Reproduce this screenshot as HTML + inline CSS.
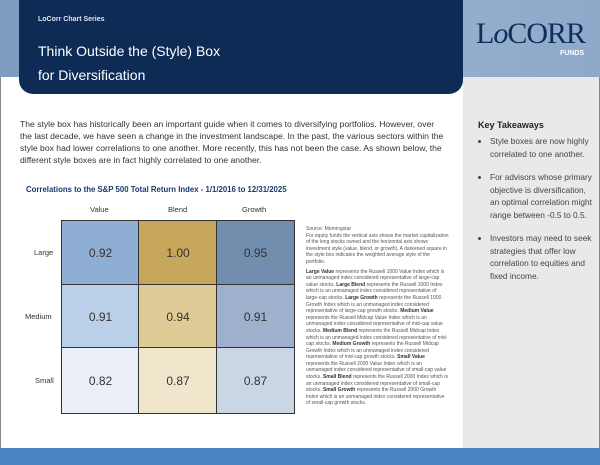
<!DOCTYPE html>
<html><head><style>
body{margin:0;width:600px;height:465px;position:relative;overflow:hidden;background:#fff;font-family:"Liberation Sans",sans-serif;color:#333}
.abs{position:absolute}
.cell{position:absolute;border:1.5px solid #333;box-sizing:border-box;display:flex;align-items:center;justify-content:center;font-size:12px;color:#333}
.src{font-size:5px;line-height:6.6px;color:#555}
.src b{color:#333}
ul{box-sizing:border-box}
li{margin-bottom:11px}
</style></head><body>
<div class="abs" style="left:0;top:0;width:600px;height:77px;background:linear-gradient(90deg,#7e9cc0,#9ab3d1 50%,#8ea9c9)"></div>
<div class="abs" style="left:0;top:77px;width:1px;height:388px;background:#888"></div>
<div class="abs" style="left:599px;top:77px;width:1px;height:388px;background:#888"></div>
<div class="abs" style="left:463px;top:77px;width:136px;height:371px;background:#e8e9eb"></div>
<div class="abs" style="left:19px;top:0;width:444px;height:94px;background:#0e2b56;border-radius:0 0 14px 14px"></div>
<div class="abs" style="left:38px;top:16px;font-size:7px;font-weight:bold;color:#dfe6f0">LoCorr Chart Series</div>
<div class="abs" style="left:38px;top:39px;font-size:14px;line-height:24px;color:#fff">Think Outside the (Style) Box<br>for Diversification</div>
<div class="abs" style="left:476px;top:17px;font-size:30px;color:#102e5c;font-family:'Liberation Serif',serif;letter-spacing:-1px">L<span style="font-style:italic">o</span>CORR</div>
<div class="abs" style="left:560px;top:50px;font-size:7px;font-weight:bold;color:#fff">FUNDS</div>
<div class="abs" style="left:20px;top:118px;width:425px;font-size:8.6px;line-height:12px;color:#333">The style box has historically been an important guide when it comes to diversifying portfolios. However, over the last decade, we have seen a change in the investment landscape. In the past, the various sectors within the style box had lower correlations to one another. More recently, this has not been the case. As shown below, the different style boxes are in fact highly correlated to one another.</div>
<div class="abs" style="left:26px;top:185px;font-size:7.8px;font-weight:bold;color:#1a3a6e">Correlations to the S&amp;P 500 Total Return Index - 1/1/2016 to 12/31/2025</div>
<div class="abs" style="left:90px;top:205px;font-size:7.5px">Value</div>
<div class="abs" style="left:168px;top:205px;font-size:7.5px">Blend</div>
<div class="abs" style="left:242px;top:205px;font-size:7.5px">Growth</div>
<div class="abs" style="left:34px;top:248px;font-size:7.5px">Large</div>
<div class="abs" style="left:25px;top:312px;font-size:7.5px">Medium</div>
<div class="abs" style="left:35px;top:376px;font-size:7.5px">Small</div>
<div class="cell" style="left:61px;top:220px;width:79px;height:66px;background:#8eaed4">0.92</div>
<div class="cell" style="left:138px;top:220px;width:80px;height:66px;background:#c6a75c">1.00</div>
<div class="cell" style="left:216px;top:220px;width:79px;height:66px;background:#738daf">0.95</div>
<div class="cell" style="left:61px;top:284px;width:79px;height:65px;background:#bacfe8">0.91</div>
<div class="cell" style="left:138px;top:284px;width:80px;height:65px;background:#dfcb96">0.94</div>
<div class="cell" style="left:216px;top:284px;width:79px;height:65px;background:#9eb0cb">0.91</div>
<div class="cell" style="left:61px;top:347px;width:79px;height:67px;background:#e9eef7">0.82</div>
<div class="cell" style="left:138px;top:347px;width:80px;height:67px;background:#f0e6cb">0.87</div>
<div class="cell" style="left:216px;top:347px;width:79px;height:67px;background:#cbd6e5">0.87</div>
<div class="abs src" style="left:306px;top:226px;width:143px">Source: Morningstar<br>For equity funds the vertical axis shows the market capitalization of the long stocks owned and the horizontal axis shows investment style (value, blend, or growth). A darkened square in the style box indicates the weighted average style of the portfolio.<div style="height:3px"></div><b>Large Value</b> represents the Russell 1000 Value Index which is an unmanaged index considered representative of large-cap value stocks. <b>Large Blend</b> represents the Russell 1000 Index which is an unmanaged index considered representative of large-cap stocks. <b>Large Growth</b> represents the Russell 1000 Growth Index which is an unmanaged index considered representative of large-cap growth stocks. <b>Medium Value</b> represents the Russell Midcap Value Index which is an unmanaged index considered representative of mid-cap value stocks. <b>Medium Blend</b> represents the Russell Midcap Index which is an unmanaged index considered representative of mid-cap stocks. <b>Medium Growth</b> represents the Russell Midcap Growth Index which is an unmanaged index considered representative of mid-cap growth stocks. <b>Small Value</b> represents the Russell 2000 Value Index which is an unmanaged index considered representative of small-cap value stocks. <b>Small Blend</b> represents the Russell 2000 Index which is an unmanaged index considered representative of small-cap stocks. <b>Small Growth</b> represents the Russell 2000 Growth Index which is an unmanaged index considered representative of small-cap growth stocks.</div>
<div class="abs" style="left:478px;top:120px;font-size:9px;font-weight:bold;color:#222">Key Takeaways</div>
<ul class="abs" style="left:474px;top:135px;width:120px;margin:0;padding-left:16px;font-size:8.3px;line-height:12.5px;color:#444">
<li>Style boxes are now highly correlated to one another.</li>
<li>For advisors whose primary objective is diversification, an optimal correlation might range between -0.5 to 0.5.</li>
<li>Investors may need to seek strategies that offer low correlation to equities and fixed income.</li>
</ul>
<div class="abs" style="left:0;top:448px;width:600px;height:17px;background:#4a84c0"></div>
</body></html>
